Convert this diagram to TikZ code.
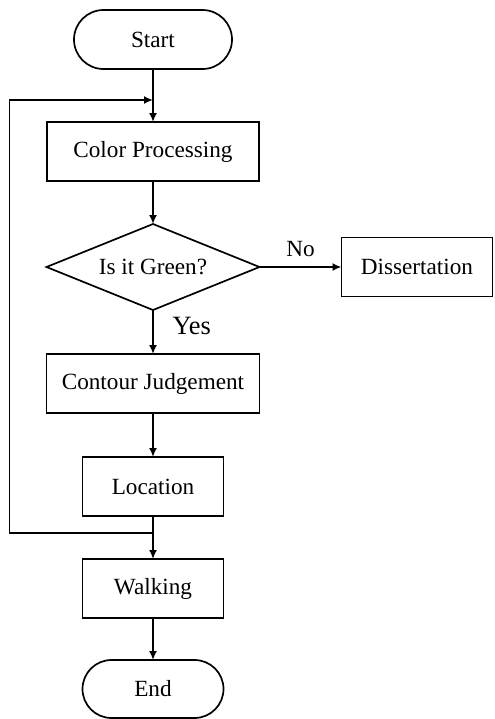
\documentclass[tikz,border=0pt]{standalone}
\usepackage{fontspec}
\setmainfont{Liberation Serif}
\usetikzlibrary{positioning,arrows.meta,shapes.geometric,shapes.misc}

\begin{document}
\begin{tikzpicture}[x=0.5pt, y=-0.5pt,
  box/.style={draw, line width=0.85pt, align=center, font=\fontsize{11.6}{14}\selectfont,
              minimum height=29.5pt, inner sep=2pt, outer sep=0pt},
  term/.style={box, rounded rectangle},
  decide/.style={box, diamond, aspect=2.48, minimum width=106.5pt, minimum height=43pt, inner sep=0pt},
  arr/.style={-{Latex[length=4.5pt,width=4pt]}, line width=0.85pt},
  lbl/.style={font=\fontsize{11.6}{14}\selectfont}]
\useasboundingbox (0,0) rectangle (494,719);
\node[term, minimum width=83pt] (start) at (153,39.5) {Start};
\node[box, minimum width=106pt, below=26.5pt of start] (color) {Color Processing};
\node[decide, below=21.5pt of color] (green) {Is it Green?};
\node[box, minimum width=75.5pt, right=41pt of green] (diss) {Dissertation};
\node[box, minimum width=106.5pt, below=22pt of green] (contour) {Contour Judgement};
\node[box, minimum width=70.5pt, below=22pt of contour] (loc) {Location};
\node[box, minimum width=70.5pt, below=21.5pt of loc] (walk) {Walking};
\node[term, minimum width=74.5pt, minimum height=29pt, below=21pt of walk] (end) {End};
\coordinate[above=11pt of color.north] (jtop);
\coordinate[below=8.5pt of loc.south] (jbot);
\coordinate (left) at (9.5,0);
\draw[arr] (start) -- (color);
\draw[arr] (color) -- (green);
\draw[arr] (green) -- node[lbl, above=1.5pt] {No} (diss);
\draw[arr] (green) -- node[pos=0.36, right=6pt, font=\fontsize{13.2}{16}\selectfont] {Yes} (contour);
\draw[arr] (contour) -- (loc);
\draw[arr] (loc) -- (walk);
\draw[arr] (walk) -- (end);
\draw[arr] (jbot) -- (left |- jbot) -- (left |- jtop) -- (jtop);
\end{tikzpicture}
\end{document}
